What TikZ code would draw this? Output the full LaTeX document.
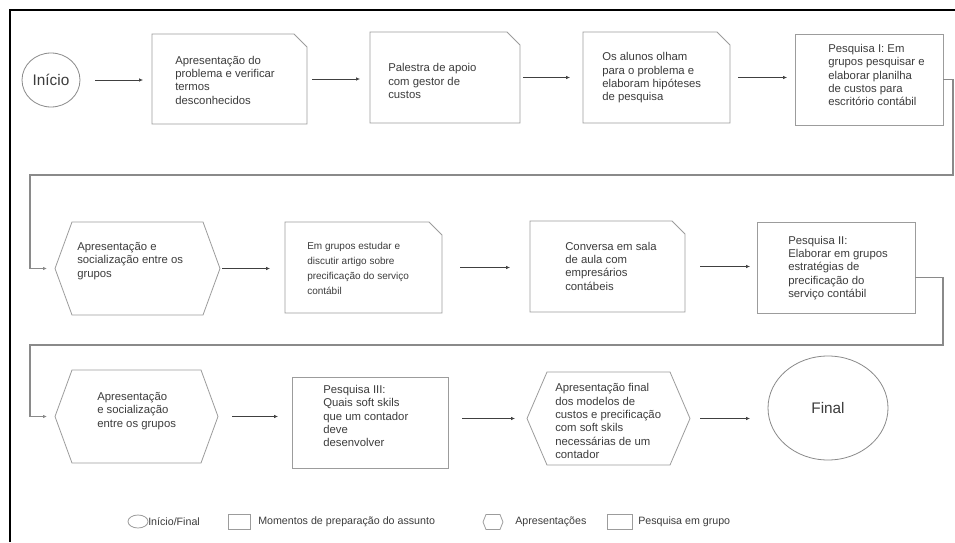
\documentclass[tikz,border=0pt]{standalone}
\usepackage{fontspec}
\setmainfont{Liberation Sans}
\usetikzlibrary{shapes.geometric,arrows.meta}
\definecolor{txtc}{HTML}{3C3C3C}
\definecolor{shapec}{HTML}{9C9C9C}
\definecolor{arrc}{HTML}{404040}
\definecolor{retc}{HTML}{8A8A8A}
\newcommand\snipshape[1]{\draw[shapeline] (#1.south west) -- (#1.north west) -- ([xshift=-9.75pt]#1.north east) -- ([yshift=-9.75pt]#1.north east) -- (#1.south east) -- cycle;}
\newcommand\hexshape[2]{\draw[shapeline] (#1.west) -- ([xshift=#2]#1.north west) -- ([xshift=-#2]#1.north east) -- (#1.east) -- ([xshift=-#2]#1.south east) -- ([xshift=#2]#1.south west) -- cycle;}
\tikzset{
  shapeline/.style={draw=shapec, line width=0.6pt},
  plainshape/.style={inner sep=0pt, outer sep=0pt},
  rbox/.style={plainshape, draw=shapec, line width=0.6pt},
  oval/.style={ellipse, plainshape, draw=retc, line width=0.6pt, text=txtc, font=\fontsize{11.5}{13}\selectfont},
  txt/.style={inner sep=0pt, align=left, text=txtc, font=\fontsize{8.5}{10}\selectfont},
  smalltxt/.style={inner sep=0pt, align=left, text=txtc, font=\fontsize{7.5}{11.25}\selectfont},
  legtxt/.style={inner sep=0pt, anchor=west, text=txtc, font=\fontsize{8}{9.5}\selectfont},
  arr/.style={draw=arrc, line width=0.5pt, -{Latex[length=3pt,width=2.6pt]}},
  ret/.style={draw=retc, line width=0.8pt, -{Latex[length=3pt,width=2.6pt]}, shorten >=6pt},
  frame/.style={draw=black, line width=1.2pt}
}
\begin{document}
\begin{tikzpicture}[x=0.75pt, y=-0.75pt]
\useasboundingbox (0,0) rectangle (955,542);
\fill[white] (0,0) rectangle (955,542);
% frame
\coordinate (fa) at (10,542);
\coordinate (fb) at (10,10);
\coordinate (fc) at (955,10);
\draw[frame] (fa) -- (fb) -- (fc);

% row 1
\node[oval, minimum width=43.5pt, minimum height=40.5pt] (inicio) at (51,80) {Início};
\node[plainshape, minimum width=116.25pt, minimum height=67.5pt] (b1) at (229.5,79) {};
\snipshape{b1}
\node[txt, anchor=west] (b1t) at (175,80) {Apresentação do\\problema e verificar\\termos\\desconhecidos};
\node[plainshape, minimum width=112.5pt, minimum height=68.25pt] (b2) at (445,77.5) {};
\snipshape{b2}
\node[txt, anchor=west] (b2t) at (388,81) {Palestra de apoio\\com gestor de\\custos};
\node[plainshape, minimum width=110.25pt, minimum height=68.25pt] (b3) at (656.5,77.5) {};
\snipshape{b3}
\node[txt, anchor=west] (b3t) at (602,78) {Os alunos olham\\para o problema e\\elaboram hipóteses\\de pesquisa};
\node[rbox, minimum width=111pt, minimum height=68.25pt] (b4) at (869,79.5) {};
\node[txt, anchor=west] (b4t) at (828,75) {Pesquisa I: Em\\grupos pesquisar e\\elaborar planilha\\de custos para\\escritório contábil};

% row 2
\node[plainshape, minimum width=123.75pt, minimum height=69.75pt] (h1) at (137.5,268.5) {};
\hexshape{h1}{12.75pt}
\node[txt, anchor=west] (h1t) at (77,261) {Apresentação e\\socialização entre os\\grupos};
\node[plainshape, minimum width=117.75pt, minimum height=68.25pt] (b5) at (363.5,267.5) {};
\snipshape{b5}
\node[smalltxt, anchor=west] (b5t) at (307,268) {Em grupos estudar e\\discutir artigo sobre\\precificação do serviço\\contábil};
\node[plainshape, minimum width=116.25pt, minimum height=68.25pt] (b6) at (607.5,266.5) {};
\snipshape{b6}
\node[txt, anchor=west] (b6t) at (565,266) {Conversa em sala\\de aula com\\empresários\\contábeis};
\node[rbox, minimum width=118.5pt, minimum height=68.25pt] (b7) at (836,267.5) {};
\node[txt, anchor=west] (b7t) at (788,268) {Pesquisa II:\\Elaborar em grupos\\estratégias de\\precificação do\\serviço contábil};

% row 3
\node[plainshape, minimum width=122.25pt, minimum height=69.75pt] (h2) at (136.5,416.5) {};
\hexshape{h2}{12.75pt}
\node[txt, anchor=west] (h2t) at (97,411) {Apresentação\\e socialização\\entre os grupos};
\node[rbox, minimum width=117pt, minimum height=68.25pt] (b8) at (370,422.5) {};
\node[txt, anchor=west] (b8t) at (323,416) {Pesquisa III:\\Quais soft skils\\que um contador\\deve\\desenvolver};
\node[plainshape, minimum width=122.25pt, minimum height=69.75pt] (h3) at (608.5,418.5) {};
\hexshape{h3}{15pt}
\node[txt, anchor=west] (h3t) at (555,421) {Apresentação final\\dos modelos de\\custos e precificação\\com soft skils\\necessárias de um\\contador};
\node[oval, minimum width=90pt, minimum height=78pt] (fin) at (828,408) {Final};

% arrows row 1
\draw[arr, shorten <=11.25pt, shorten >=6.75pt] (inicio.east) -- (inicio.east -| b1.west);
\draw[arr, shorten <=3.75pt, shorten >=7.5pt] (b1.east) -- (b1.east -| b2.west);
\draw[arr, shorten <=2.25pt, shorten >=9.75pt] (b2.east) -- (b2.east -| b3.west);
\draw[arr, shorten <=6pt, shorten >=6pt] (b3.east) -- (b3.east -| b4.west);
% arrows row 2
\draw[arr, shorten <=1.5pt, shorten >=11.25pt] (h1.east) -- (h1.east -| b5.west);
\draw[arr, shorten <=13.5pt, shorten >=15pt] (b5.east) -- (b5.east -| b6.west);
\draw[arr, shorten <=11.25pt, shorten >=5.25pt] (b6.east) -- (b6.east -| b7.west);
% arrows row 3
\draw[arr, shorten <=10.5pt, shorten >=10.5pt] (h2.east) -- (h2.east -| b8.west);
\draw[arr, shorten <=10.5pt, shorten >=9pt] (h3.west -| b8.east) -- (h3.west);
\draw[arr, shorten <=7.5pt, shorten >=13.5pt] (h3.east) -- (h3.east -| fin.west);

% return connectors
\coordinate (r1) at (953,175);
\coordinate (l1) at (30,175);
\draw[ret] (b4.east) -| (r1) -- (l1) |- (h1.west);
\coordinate (s2) at (915,277.5);
\coordinate (r2) at (943,345);
\coordinate (l2) at (30,345);
\draw[ret] (s2) -| (r2) -- (l2) |- (h2.west);

% legend
\node[ellipse, plainshape, draw=shapec, line width=0.6pt, minimum width=15pt, minimum height=9.75pt] (lg1) at (138,521.5) {};
\node[legtxt] (lg1t) at (148,521.5) {Início/Final};
\node[rbox, minimum width=16.5pt, minimum height=11.25pt] (lg2) at (239,521.5) {};
\node[legtxt] (lg2t) at (258,521.5) {Momentos de preparação do assunto};
\node[plainshape, minimum width=15pt, minimum height=11.25pt] (lg3) at (493,522) {};
\hexshape{lg3}{2.25pt}
\node[legtxt] (lg3t) at (515,521.5) {Apresentações};
\node[rbox, minimum width=18.75pt, minimum height=11.25pt] (lg4) at (619.5,521.5) {};
\node[legtxt] (lg4t) at (638,521.5) {Pesquisa em grupo};
\end{tikzpicture}
\end{document}
